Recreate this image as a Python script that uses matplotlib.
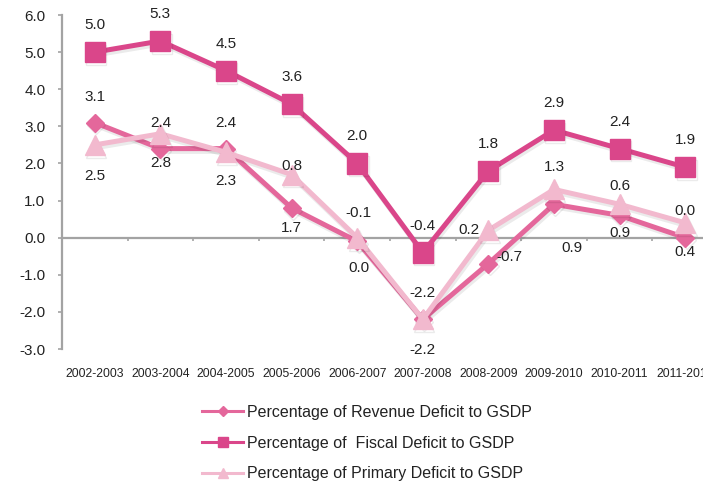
import matplotlib
matplotlib.use("Agg")
import matplotlib.pyplot as plt
import matplotlib.patheffects as pe
from matplotlib.lines import Line2D
import numpy as np

plt.rcParams['font.family'] = ['Liberation Sans', 'DejaVu Sans']

years = ["2002-2003", "2003-2004", "2004-2005", "2005-2006", "2006-2007",
         "2007-2008", "2008-2009", "2009-2010", "2010-2011", "2011-2012"]
revenue = [3.1, 2.4, 2.4, 0.8, -0.1, -2.2, -0.7, 0.9, 0.6, 0.0]
fiscal = [5.0, 5.3, 4.5, 3.6, 2.0, -0.4, 1.8, 2.9, 2.4, 1.9]
primary = [2.5, 2.8, 2.3, 1.7, 0.0, -2.2, 0.2, 1.3, 0.9, 0.4]
names = ["Percentage of Revenue Deficit to GSDP",
         "Percentage of  Fiscal Deficit to GSDP",
         "Percentage of Primary Deficit to GSDP"]

# label offsets (pixels) as placed in the original chart
rev_off = [(0, 26), (0, 26), (0, 26), (0, 42), (1, 28), (0, 26), (21, 7), (18, -44), (0, 29), (0, 27)]
pri_off = [(0, -31), (0, -29), (0, -29), (0, -53), (2, -30), (0, -31), (-19, 0), (0, 22), (0, -29), (0, -29)]
fis_off = (0, 27)

c_rev = "#E4679B"
c_fis = "#DA468A"
c_pri = "#F2B9CE"
txt = "#222222"
grey = "#A3A3A3"

fig = plt.figure(figsize=(7.03, 4.86), dpi=100)
ax = fig.add_axes([62/703, 1-349/486, 656/703, 334/486])
x = np.arange(len(years))

shadow = [pe.SimpleLineShadow(offset=(1.0, -2.0), shadow_color='k', alpha=0.08), pe.Normal()]

ax.plot(x, revenue, color=c_rev, lw=3.6, marker='D', markersize=9.2,
        path_effects=shadow, zorder=3, clip_on=False)
ax.plot(x, fiscal, color=c_fis, lw=3.6, marker='s', markersize=14.5,
        path_effects=shadow, zorder=4, clip_on=False)
ax.plot(x, primary, color=c_pri, lw=3.6, marker='^', markersize=14.5,
        path_effects=shadow, zorder=5, clip_on=False)

for i in range(len(x)):
    ax.annotate(f"{fiscal[i]:.1f}", (x[i], fiscal[i]), xytext=fis_off,
                textcoords='offset pixels', ha='center', va='center',
                fontsize=11, color=txt, zorder=6)
    ax.annotate(f"{revenue[i]:.1f}", (x[i], revenue[i]), xytext=rev_off[i],
                textcoords='offset pixels', ha='center', va='center',
                fontsize=11, color=txt, zorder=6)
    ax.annotate(f"{primary[i]:.1f}", (x[i], primary[i]), xytext=pri_off[i],
                textcoords='offset pixels', ha='center', va='center',
                fontsize=11, color=txt, zorder=6)

ax.set_xlim(-0.5, len(years) - 0.5)
ax.set_ylim(-3, 6)
ax.set_yticks(np.arange(-3, 7, 1))
ax.set_yticklabels([f"{v:.1f}" for v in np.arange(-3, 7, 1)])
ax.tick_params(axis='y', direction='out', length=3, width=1.2, color=grey,
               labelsize=11, labelcolor=txt, pad=9)
ax.set_xticks(x)
ax.set_xticklabels(years, fontsize=8.7, color=txt)
ax.tick_params(axis='x', length=0, pad=14)

for s in ['top', 'right', 'bottom']:
    ax.spines[s].set_visible(False)
ax.spines['left'].set_color(grey)
ax.spines['left'].set_linewidth(1.6)

sec = ax.secondary_xaxis(1/3)
sec.set_xticks(np.arange(-0.5, len(years), 1))
sec.set_xticklabels([])
sec.spines['bottom'].set_color(grey)
sec.spines['bottom'].set_linewidth(1.6)
sec.tick_params(axis='x', direction='out', length=2.5, width=1.2, color=grey)
for s in ['top', 'left', 'right']:
    if s in sec.spines:
        sec.spines[s].set_visible(False)

handles = [Line2D([], [], color=c_rev, lw=2.2, marker='D', markersize=5),
           Line2D([], [], color=c_fis, lw=2.2, marker='s', markersize=6.5),
           Line2D([], [], color=c_pri, lw=2.2, marker='^', markersize=6.5)]
fig.legend(handles, names, loc='center', bbox_to_anchor=(367/703, 1-443/486),
           frameon=False, fontsize=11.5, handlelength=2.6, handletextpad=0.25,
           labelspacing=1.0, labelcolor=txt)

fig.savefig("out.png", dpi=100)
